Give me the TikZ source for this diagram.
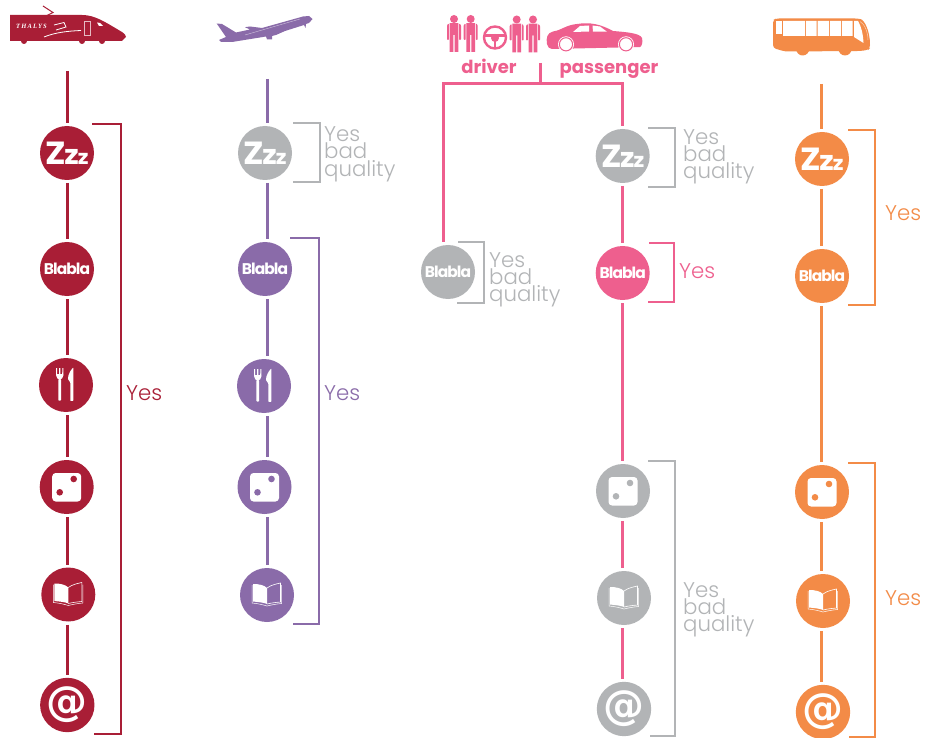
\documentclass[tikz,border=0pt]{standalone}
\usepackage{fontspec}
\usepackage{graphicx}
\setmainfont{Poppins}[UprightFont=* Light,BoldFont=* Bold]
\newfontfamily\iconfont{Poppins}[UprightFont=* Bold]
\newfontfamily\atfont{DejaVu Sans}[UprightFont=* Bold]
\newfontfamily\thalfont{Liberation Serif}[UprightFont=* Bold Italic]
\definecolor{cred}{HTML}{A91E36}
\definecolor{cpur}{HTML}{8A6BA9}
\definecolor{cpink}{HTML}{EE5F8E}
\definecolor{corg}{HTML}{F38B47}
\definecolor{cgray}{HTML}{B2B4B6}
\newcommand{\zzzicon}{\scalebox{1.08}[1]{\iconfont\fontsize{32}{32}\selectfont Z\kern-1.5pt\fontsize{27}{27}\selectfont z\kern-1pt\fontsize{20}{20}\selectfont z}}
\newcommand{\blaicon}{{\iconfont\fontsize{15.5}{15.5}\selectfont\addfontfeature{LetterSpace=-6}Blabla}}
\newcommand{\aticon}{{\atfont\fontsize{41}{41}\selectfont @}}
\tikzset{
  badge/.style={circle,fill=#1,minimum size=54pt,inner sep=0pt,outer sep=3pt,text=white},
  stem/.style={line width=3pt,draw=#1},
  brk/.style={line width=2pt,draw=#1},
  lab/.style={text=#1,anchor=north west,align=left,inner sep=0pt,font=\fontsize{21.3}{17.3}\selectfont},
  pics/forkicon/.style={code={
    \fill[white,rounded corners=.6pt] (-7.6,-6) -- (-7.6,15.5) -- (-5,15.5) -- (-5,-6) -- cycle;
    \fill[white] (-9.9,-17) -- (-9,-17) -- (-8.8,-11) -- (-7,-11) -- (-7,-17) -- (-5.6,-17) -- (-5.6,-11) -- (-3.8,-11) -- (-3.6,-17) -- (-2.7,-17) -- (-2.5,-10) .. controls (-2.7,-7) and (-4.5,-5.5) .. (-6.3,-5.5) .. controls (-8,-5.5) and (-9.8,-7) .. (-10,-10) -- cycle;
    \fill[white,rounded corners=.5pt] (7.4,-17.5) .. controls (4.5,-15) and (2,-10) .. (2,-6) -- (4.3,-2.5) -- (4.3,15.8) -- (7.4,15.8) -- cycle;
  }},
  pics/diceicon/.style={code={
    \fill[white,rounded corners=3.5pt] (-14.5,-14) rectangle (14.5,14.5);
    \fill[#1] (7,-8) circle (3.3) (-7,5.3) circle (3.3);
  }},
  pics/bookicon/.style={code={
    \fill[white] (-14,-11) .. controls (-8,-11) and (-3,-10) .. (0,-7) -- (0,9) .. controls (-3,7.5) and (-9,7) .. (-14,6.5) -- cycle;
    \draw[white,line width=.6pt] (0,-7) .. controls (4,-10) and (9,-11) .. (13.5,-12) -- (13.5,7) .. controls (8,7.5) and (4,8) .. (0,9);
    \draw[white,line width=.5pt] (-15,-10) -- (-15,8) .. controls (-9,8.5) and (-3,10) .. (0,11) .. controls (4,10) and (9,9) .. (14.5,8.5) -- (14.5,-10);
  }}
}
\newcommand{\person}[2]{%
  \fill[cpink] (#1,#2) circle (4);
  \fill[cpink] (#1-4.4,#2+4.2) -- (#1+4.4,#2+4.2) -- (#1+4.4,#2+33) -- (#1+.7,#2+33) -- (#1+.7,#2+16) -- (#1-.7,#2+16) -- (#1-.7,#2+33) -- (#1-4.4,#2+33) -- cycle;
  \fill[cpink,rounded corners=.8pt] (#1+5.1,#2+4.4) -- (#1+7,#2+6) -- (#1+7,#2+21) -- (#1+5.1,#2+21) -- cycle (#1-5.1,#2+4.4) -- (#1-7,#2+6) -- (#1-7,#2+21) -- (#1-5.1,#2+21) -- cycle;
}
\begin{document}
\begin{tikzpicture}[x=1pt,y=-1pt]
\fill[white] (0,0) rectangle (940,738);
\useasboundingbox (0,0) rectangle (940,738);

% ---------- train
\fill[cred] (10,15) -- (82,15) .. controls (95,15) and (105,22) .. (122,32) .. controls (125,34) and (126,36) .. (126,37) -- (122,41) -- (10,41) -- cycle;
\fill[cred] (24,41) circle (3) (82,41) circle (3) (102,41) circle (3);
\draw[cred,line width=1pt] (43,6) -- (53,12.5) -- (47,15.5);
\node[text=white,inner sep=0pt,font=\thalfont\fontsize{6.5}{6.5}\selectfont\addfontfeature{LetterSpace=18}] (thalys) at (31.5,26.7) {THALYS};
\draw[white,line width=.8pt] (44,37) .. controls (55,32.5) and (68,31) .. (81,30.5);
\draw[white,line width=.8pt] (54,25) -- (64,22.5) -- (66,27) -- (56,30);
\draw[white!70!cred,line width=.7pt] (84.5,21) rectangle (90,35);
\fill[white] (97,22.5) -- (100,23) -- (103,26) -- (99,26) -- cycle;

% ---------- plane
\fill[cpur] (216.7,23.5) -- (222,24) -- (236,32.5) -- (250,29.5) -- (245,27.2) -- (250,26.5) -- (262,28) -- (303,16.5) -- (309,16) -- (312.5,19) -- (309,23) -- (306,24) -- (305.5,28) -- (304,25) -- (285,31) -- (276,35) -- (272,36) -- (272,39.5) -- (267,39.5) -- (266,36.5) -- (232,42) -- (221,42) -- (219,40) -- (226,37) -- cycle;
\draw[white!60!cpur,line width=.4pt] (245,35) -- (300,19);

% ---------- car-share
\person{454}{19}\person{470.7}{19}\person{516.7}{19.5}\person{533}{19.5}
\draw[cpink,line width=2.4pt] (495,37.5) circle (11);
\draw[cpink,line width=2.5pt] (485,35.5) -- (505,35.5) (495,38) -- (495,47);
\fill[cpink] (495,38) circle (4);
\fill[cpink] (547,44) .. controls (546,38) and (547,33) .. (553,31.5) .. controls (562,30) and (566,25) .. (577,24) .. controls (590,22) and (600,24) .. (613,31) .. controls (625,32) and (640,33) .. (642,38) .. controls (643,42) and (642,46) .. (640,47) -- (552,49) .. controls (549,49) and (548,47) .. (547,44) -- cycle;
\fill[white] (573,32) -- (580,26) -- (589,25.5) -- (589,31.5) -- cycle (592.5,25.5) -- (600,26.5) -- (607,31.7) -- (593,31.7) -- cycle;
\fill[white] (566,44.3) circle (8) (626,44.3) circle (8);
\draw[cpink,line width=1pt] (566,44.3) circle (6.6) (626,44.3) circle (6.6);
\node[text=cpink,inner sep=0pt,anchor=base,font=\fontsize{18}{18}\selectfont\bfseries] (driver) at (489,74) {driver};
\node[text=cpink,inner sep=0pt,anchor=base,font=\fontsize{18}{18}\selectfont\bfseries] (passenger) at (609,74) {passenger};

% ---------- bus
\fill[corg,rounded corners=3pt] (773,48) -- (773,20) -- (776,18.5) -- (858,18.5) .. controls (864,20) and (870,30) .. (870,48) -- (868,50) -- (860,51) -- (785,51.5) -- cycle;
\fill[corg] (802.7,49) circle (6.5) (845,49) circle (6.5);
\fill[white] (776,21) rectangle (781.7,34);
\fill[white] (783,21) rectangle (805,36) (806,21) rectangle (816.7,36) (817.7,21) rectangle (829,36) (830,21) rectangle (841,36) (842,21) rectangle (852.7,36) (854,21) -- (858,21) .. controls (861,26) and (863,33) .. (863.5,43) -- (854,37) -- cycle;
\draw[white!60!corg,line width=.5pt] (860,21.5) .. controls (865,24) and (868,33) .. (868,40);

% ---------- column 1
\coordinate (t1) at (67,71);
\node[badge=cred] (a1) at (67,153) {\zzzicon};
\node[badge=cred] (a2) at (67,269) {\blaicon};
\node[badge=cred] (a3) at (66,385) {};
\node[badge=cred] (a4) at (66.7,487) {};
\node[badge=cred] (a5) at (68.3,594.5) {};
\node[badge=cred] (a6) at (67.3,705) {\aticon};
\pic at (a3) {forkicon};
\pic at (a4) {diceicon=cred};
\pic at (a5) {bookicon};
\draw[stem=cred] (t1) -- (t1 |- a1.north);
\draw[stem=cred] (t1 |- a1.south) -- (t1 |- a2.north);
\draw[stem=cred] (t1 |- a2.south) -- (t1 |- a3.north);
\draw[stem=cred] (t1 |- a3.south) -- (t1 |- a4.north);
\draw[stem=cred] (t1 |- a4.south) -- (t1 |- a5.north);
\draw[stem=cred] (t1 |- a5.south) -- (t1 |- a6.north);
\draw[brk=cred] (92,124) -- (121,124) -- (121,734) -- (94,734);
\node[lab=cred] (l1) at (126,385.5) {Yes};

% ---------- column 2
\coordinate (t2) at (267,79);
\node[badge=cgray] (b1) at (265,153) {\zzzicon};
\node[badge=cpur] (b2) at (265,269) {\blaicon};
\node[badge=cpur] (b3) at (264,386) {};
\node[badge=cpur] (b4) at (264.5,487) {};
\node[badge=cpur] (b5) at (267,595) {};
\pic at (b3) {forkicon};
\pic at (b4) {diceicon=cpur};
\pic at (b5) {bookicon};
\draw[stem=cpur] (t2) -- (t2 |- b1.north);
\draw[stem=cpur] (t2 |- b1.south) -- (t2 |- b2.north);
\draw[stem=cpur] (t2 |- b2.south) -- (t2 |- b3.north);
\draw[stem=cpur] (t2 |- b3.south) -- (t2 |- b4.north);
\draw[stem=cpur] (t2 |- b4.south) -- (t2 |- b5.north);
\draw[brk=cgray] (293,123) -- (320,123) -- (320,182) -- (293,182);
\node[lab=cgray] (l2) at (324,126.5) {Yes\\bad\\quality};
\draw[brk=cpur] (290,238) -- (319,238) -- (319,624) -- (293,624);
\node[lab=cpur] (l3) at (324,385.5) {Yes};

% ---------- column 3 (driver)
\coordinate (s3) at (540.7,63);
\coordinate (j3) at (540.7,84);
\coordinate (t3) at (622.5,84);
\node[badge=cgray] (d1) at (448,272) {\blaicon};
\node[badge=cgray] (c1) at (622.7,156) {\zzzicon};
\node[badge=cpink] (c2) at (622.7,273) {\blaicon};
\node[badge=cgray] (c3) at (623,491) {};
\node[badge=cgray] (c4) at (624,598) {};
\node[badge=cgray] (c5) at (624,709) {\aticon};
\pic at (c3) {diceicon=cgray};
\pic at (c4) {bookicon};
\coordinate (t4) at (443,84);
\draw[stem=cpink] (s3) -- (j3);
\draw[stem=cpink] (t4 |- d1.north) -- (t4) -- (t3) -- (t3 |- c1.north);
\draw[stem=cpink] (t3 |- c1.south) -- (t3 |- c2.north);
\draw[stem=cpink] (t3 |- c2.south) -- (t3 |- c3.north);
\draw[stem=cpink] (t3 |- c3.south) -- (t3 |- c4.north);
\draw[stem=cpink] (t3 |- c4.south) -- (t3 |- c5.north);
\draw[brk=cgray] (458,242) -- (484,242) -- (484,303) -- (457,303);
\node[lab=cgray] (l4) at (489,252) {Yes\\bad\\quality};
\draw[brk=cgray] (648,128) -- (675,128) -- (675,187) -- (648,187);
\node[lab=cgray] (l5) at (683,129) {Yes\\bad\\quality};
\draw[brk=cpink] (649,243.5) -- (674,243.5) -- (674,301.5) -- (648,301.5);
\node[lab=cpink] (l6) at (679,263.5) {Yes};
\draw[brk=cgray] (648,461) -- (675,461) -- (675,736) -- (650,736);
\node[lab=cgray] (l7) at (683,582) {Yes\\bad\\quality};

% ---------- column 4
\coordinate (t5) at (821.5,84);
\node[badge=corg] (e1) at (822,159) {\zzzicon};
\node[badge=corg] (e2) at (822,276) {\blaicon};
\node[badge=corg] (e3) at (822,492) {};
\node[badge=corg] (e4) at (823,601) {};
\node[badge=corg] (e5) at (823,712) {\aticon};
\pic at (e3) {diceicon=corg};
\pic at (e4) {bookicon};
\draw[stem=corg] (t5) -- (t5 |- e1.north);
\draw[stem=corg] (t5 |- e1.south) -- (t5 |- e2.north);
\draw[stem=corg] (t5 |- e2.south) -- (t5 |- e3.north);
\draw[stem=corg] (t5 |- e3.south) -- (t5 |- e4.north);
\draw[stem=corg] (t5 |- e4.south) -- (t5 |- e5.north);
\draw[brk=corg] (848,130) -- (875,130) -- (875,305) -- (848,305);
\node[lab=corg] (l8) at (885,205) {Yes};
\draw[brk=corg] (848,463) -- (875,463) -- (875,737) -- (849,737);
\node[lab=corg] (l9) at (885,590) {Yes};
\end{tikzpicture}
\end{document}
